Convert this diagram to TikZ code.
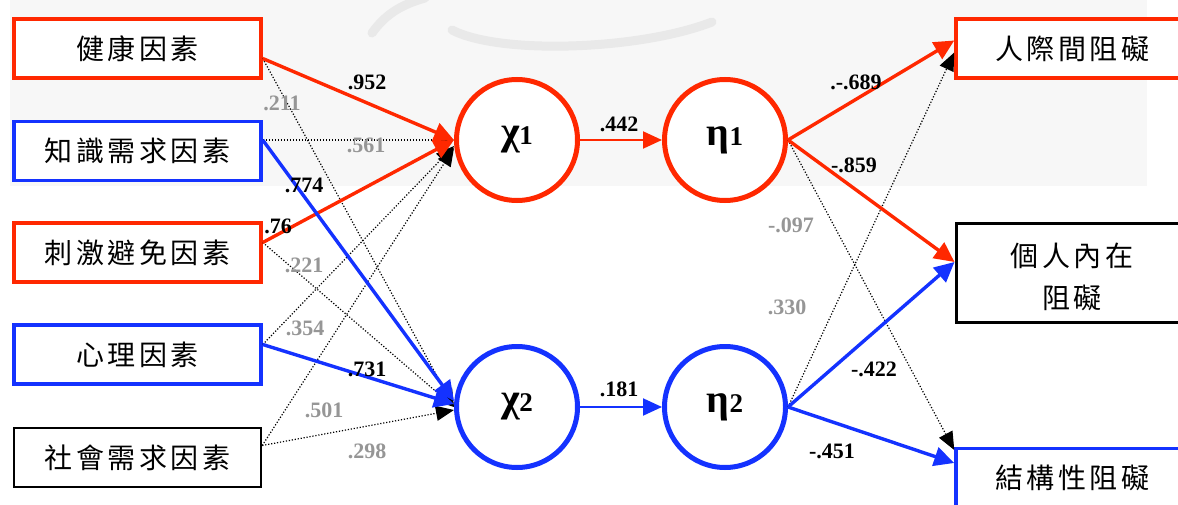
\documentclass[tikz,border=0pt]{standalone}
\usepackage{fontspec}
\setmainfont{Liberation Serif}
\newfontfamily\cjk{Noto Sans CJK TC}
\usetikzlibrary{arrows.meta,calc}
\definecolor{myred}{RGB}{255,40,0}
\definecolor{myblue}{RGB}{20,50,255}
\definecolor{lbl}{RGB}{150,150,150}
\definecolor{bgc}{RGB}{247,247,247}
\definecolor{wm}{RGB}{233,233,233}
\newcommand\kk{\hspace{3.5pt}}
\newcommand\lv[2]{{\bfseries\fontsize{40}{40}\selectfont #1\fontsize{27}{27}\selectfont #2}}
\begin{document}
\begin{tikzpicture}[x=1pt,y=-1pt,
 box/.style={draw,line width=3.5pt,minimum width=247pt,minimum height=59pt,inner sep=0pt,fill=white,font=\cjk\fontsize{28}{42}\selectfont},
 lat/.style={circle,draw,line width=5pt,minimum size=121pt,inner sep=0pt,fill=white},
 solidarr/.style={line width=3.4pt,-{Triangle[length=20pt,width=19pt]}},
 thinarr/.style={line width=2pt,-{Triangle[length=19pt,width=17pt]}},
 dotarr/.style={black,line width=1.2pt,dash pattern=on 1.2pt off 1.8pt,-{Triangle[length=18pt,width=15pt]}},
 coef/.style={font=\bfseries\fontsize{22}{22}\selectfont,inner sep=0pt},
 ns/.style={coef,text=lbl},
]
\useasboundingbox (0,0) rectangle (1178,505);
\clip (0,0) rectangle (1178,505);
\fill[white] (0,0) rectangle (1178,505);
\fill[bgc] (10,0) rectangle (1147,186);
\draw[wm,line width=9pt,line cap=round] (372,33) .. controls (385,15) and (400,5) .. (425,-2);
\draw[wm,line width=9pt,line cap=round] (452,30) .. controls (500,55) and (640,50) .. (712,22);

% left boxes
\node[box,draw=myred] (b1) at (137.5,48.5) {健\kk{}康\kk{}因\kk{}素};
\node[box,draw=myblue] (b2) at (137.5,151) {知\kk{}識\kk{}需\kk{}求\kk{}因\kk{}素};
\node[box,draw=myred] (b3) at (137.5,252.5) {刺\kk{}激\kk{}避\kk{}免\kk{}因\kk{}素};
\node[box,draw=myblue] (b4) at (137.5,354.5) {心\kk{}理\kk{}因\kk{}素};
\node[box,draw=black,line width=2.5pt] (b5) at (137.5,457.5) {社\kk{}會\kk{}需\kk{}求\kk{}因\kk{}素};

% right boxes
\node[box,draw=myred,minimum width=232pt] (r1) at (1072,48.5) {人\kk{}際\kk{}間\kk{}阻\kk{}礙};
\node[box,draw=black,line width=3pt,minimum width=232pt,minimum height=99pt,align=center] (r2) at (1072,273) {};
\node[font=\cjk\fontsize{28}{28}\selectfont,inner sep=0pt] (r2a) at (1072,256) {個\kk{}人\kk{}內\kk{}在};
\node[font=\cjk\fontsize{28}{28}\selectfont,inner sep=0pt] (r2b) at (1072,298) {阻\kk{}礙};
\node[box,draw=myblue,minimum width=232pt] (r3) at (1072,478) {結\kk{}構\kk{}性\kk{}阻\kk{}礙};

% latent circles
\node[lat,draw=myred] (c1) at (517,140) {\lv{χ}{1}};
\node[lat,draw=myred] (e1) at (725,140) {\lv{η}{1}};
\node[lat,draw=myblue] (c2) at (517,407) {\lv{χ}{2}};
\node[lat,draw=myblue] (e2) at (725,407) {\lv{η}{2}};

% start / end points
\coordinate (s1) at ([yshift=-10pt]b1.east);
\coordinate (s2) at ([yshift=11pt]b2.east);
\coordinate (s3) at ([yshift=10pt]b3.east);
\coordinate (s4) at ([yshift=10pt]b4.east);
\coordinate (s5) at ([yshift=12pt]b5.east);
\coordinate (t1a) at ([yshift=8pt]r1.west);
\coordinate (t1b) at ([yshift=-4pt]r1.west);
\coordinate (t2) at ([yshift=11pt]r2.west);
\coordinate (t3a) at ([yshift=15pt]r3.west);
\coordinate (t3b) at ([yshift=28pt]r3.west);

% non-significant paths
\draw[dotarr] (s1) -- (c2.west);
\draw[dotarr] (s2) -- (c1.west);
\draw[dotarr] (s3) -- (c2.west);
\draw[dotarr] (s4) -- ([yshift=-6pt]c1.west);
\draw[dotarr] (s5) -- ([yshift=-8pt]c1.west);
\draw[dotarr] (s5) -- ([yshift=-3pt]c2.west);
\draw[dotarr] (e1.east) -- (t3b);
\draw[dotarr] (e2.east) -- (t1b);

% significant paths
\draw[solidarr,myred] (s1) -- (c1.west);
\draw[solidarr,myred] (s3) -- (c1.west);
\draw[solidarr,myblue] (s2) -- ([yshift=6pt]c2.west);
\draw[solidarr,myblue] (s4) -- ([yshift=3pt]c2.west);
\draw[thinarr,myred] (c1) -- (e1);
\draw[thinarr,myblue] (c2) -- (e2);
\draw[solidarr,myred] (e1.east) -- (t1a);
\draw[solidarr,myred] (e1.east) -- (t2);
\draw[solidarr,myblue] (e2.east) -- (t2);
\draw[solidarr,myblue] (e2.east) -- (t3a);

% coefficients
\node[coef] (l952) at (367,82) {.952};
\node[ns] (l211) at (282,103) {.211};
\node[ns] (l561) at (366,145) {.561};
\node[coef] (l774) at (304,185) {.774};
\node[coef] (l76) at (278,226) {.76};
\node[ns] (l221) at (304,265) {.221};
\node[ns] (l354) at (305,328) {.354};
\node[coef] (l731) at (367,369) {.731};
\node[ns] (l501) at (324,410) {.501};
\node[ns] (l298) at (367,451) {.298};
\node[coef] (l442) at (619,124) {.442};
\node[coef] (l181) at (619,389) {.181};
\node[coef] (l689) at (856,82) {.-.689};
\node[coef] (l859) at (854,165) {-.859};
\node[ns] (l097) at (791,225) {-.097};
\node[ns] (l330) at (787,307) {.330};
\node[coef] (l422) at (874,369) {-.422};
\node[coef] (l451) at (832,451) {-.451};
\end{tikzpicture}
\end{document}
